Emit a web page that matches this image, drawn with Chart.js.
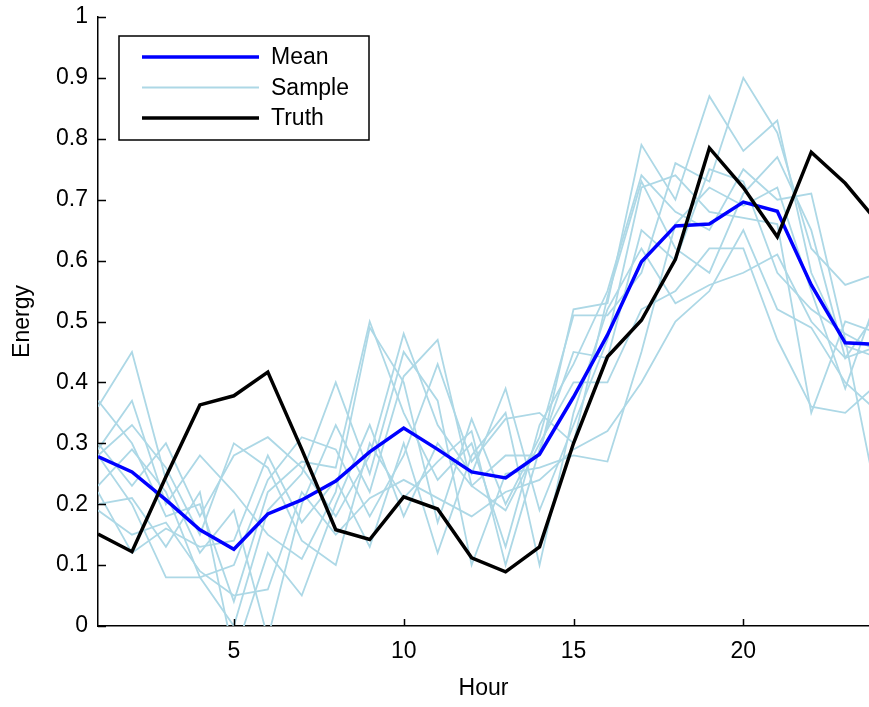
<!DOCTYPE html>
<html>
<head>
<meta charset="utf-8">
<script src="https://cdn.jsdelivr.net/npm/chart.js@4"></script>
<style>
  html, body { margin: 0; padding: 0; background: #fff; overflow: hidden; }
</style>
</head>
<body>
<canvas id="energyChart" width="869" height="707"></canvas>
<script>
// hours on the x axis
const hours = [1, 2, 3, 4, 5, 6, 7, 8, 9, 10, 11, 12, 13, 14, 15, 16, 17, 18, 19, 20, 21, 22, 23, 24];

const meanEnergy = [0.278, 0.253, 0.207, 0.158, 0.126, 0.184, 0.207, 0.238, 0.286, 0.325, 0.290, 0.253,
                    0.243, 0.282, 0.376, 0.478, 0.598, 0.657, 0.660, 0.696, 0.681, 0.560, 0.465, 0.462];
const truthEnergy = [0.151, 0.122, 0.245, 0.363, 0.378, 0.417, 0.290, 0.158, 0.142, 0.212, 0.192, 0.112,
                     0.089, 0.130, 0.300, 0.442, 0.502, 0.602, 0.785, 0.720, 0.639, 0.778, 0.727, 0.660];

const sampleA = [0.37, 0.30, 0.18, 0.20, 0.04, 0.22, 0.27, 0.26, 0.50, 0.35, 0.24, 0.30, 0.13, 0.33, 0.43, 0.55, 0.74, 0.68, 0.65, 0.75, 0.70, 0.71, 0.47, 0.19];
const sampleB = [0.36, 0.45, 0.24, 0.12, 0.19, -0.02, 0.20, 0.33, 0.22, 0.41, 0.47, 0.23, 0.28, 0.28, 0.52, 0.53, 0.79, 0.70, 0.87, 0.78, 0.83, 0.58, 0.46, 0.44];
const sampleC = [0.30, 0.23, 0.30, 0.18, 0.28, 0.31, 0.26, 0.18, 0.28, 0.48, 0.33, 0.25, 0.39, 0.19, 0.33, 0.47, 0.72, 0.74, 0.68, 0.67, 0.66, 0.35, 0.50, 0.48];
const sampleD = [0.29, 0.37, 0.20, 0.28, 0.22, 0.15, 0.11, 0.22, 0.49, 0.40, 0.17, 0.34, 0.20, 0.31, 0.51, 0.51, 0.58, 0.76, 0.73, 0.90, 0.81, 0.62, 0.56, 0.58];
const sampleE = [0.28, 0.20, 0.08, 0.08, 0.10, 0.24, 0.31, 0.29, 0.18, 0.28, 0.43, 0.27, 0.34, 0.35, 0.30, 0.54, 0.73, 0.62, 0.58, 0.71, 0.77, 0.65, 0.44, 0.52];
const sampleF = [0.28, 0.33, 0.26, 0.15, 0.30, 0.26, 0.14, 0.10, 0.30, 0.21, 0.27, 0.32, 0.10, 0.29, 0.45, 0.44, 0.65, 0.60, 0.75, 0.73, 0.58, 0.52, 0.48, 0.45];
const sampleG = [0.23, 0.29, 0.22, 0.08, 0.00, 0.19, 0.25, 0.40, 0.25, 0.45, 0.37, 0.10, 0.25, 0.26, 0.28, 0.27, 0.45, 0.66, 0.72, 0.69, 0.72, 0.55, 0.39, 0.55];
const sampleH = [0.22, 0.12, 0.16, 0.13, 0.14, 0.28, 0.17, 0.24, 0.13, 0.30, 0.12, 0.28, 0.35, 0.10, 0.35, 0.52, 0.62, 0.53, 0.56, 0.58, 0.61, 0.50, 0.44, 0.46];
const sampleI = [0.20, 0.21, 0.13, 0.22, -0.05, 0.12, 0.05, 0.20, 0.33, 0.18, 0.30, 0.23, 0.19, 0.30, 0.40, 0.40, 0.52, 0.55, 0.62, 0.62, 0.47, 0.36, 0.35, 0.40];
const sampleJ = [0.19, 0.15, 0.17, 0.09, 0.05, 0.06, 0.22, 0.15, 0.21, 0.24, 0.21, 0.18, 0.22, 0.24, 0.29, 0.32, 0.40, 0.50, 0.55, 0.65, 0.52, 0.49, 0.40, 0.35];
const samples = [sampleA, sampleB, sampleC, sampleD, sampleE, sampleF, sampleG, sampleH, sampleI, sampleJ];

const xTickValues = [5, 10, 15, 20];
const yTickValues = [0, 0.1, 0.2, 0.3, 0.4, 0.5, 0.6, 0.7, 0.8, 0.9, 1];
const legendNames = ['Mean', 'Sample', 'Truth'];

const FONT = 'Liberation Sans, Arial, Helvetica, sans-serif';
const MEAN_COLOR = '#0000ff';
const SAMPLE_COLOR = '#add8e6';
const TRUTH_COLOR = '#000000';

// MATLAB style: ticks point into the axes
const inwardTicks = {
    id: 'inwardTicks',
    afterDraw(chart) {
        const ctx = chart.ctx;
        const area = chart.chartArea;
        const xs = chart.scales.x, ys = chart.scales.y;
        ctx.save();
        ctx.strokeStyle = '#000';
        ctx.lineWidth = 1.5;
        ctx.beginPath();
        yTickValues.forEach(v => {
            const py = Math.round(ys.getPixelForValue(v)) + 0.5;
            ctx.moveTo(area.left, py);
            ctx.lineTo(area.left + 8, py);
        });
        xTickValues.forEach(v => {
            const px = Math.round(xs.getPixelForValue(v)) + 0.5;
            ctx.moveTo(px, area.bottom);
            ctx.lineTo(px, area.bottom - 7);
        });
        ctx.stroke();
        ctx.restore();
    }
};

// legend box in the upper left corner of the axes
const boxLegend = {
    id: 'boxLegend',
    afterDraw(chart) {
        const ctx = chart.ctx;
        const styles = [
            { color: MEAN_COLOR, width: 3.5 },
            { color: SAMPLE_COLOR, width: 1.8 },
            { color: TRUTH_COLOR, width: 3.5 }
        ];
        ctx.save();
        ctx.fillStyle = '#fff';
        ctx.fillRect(119, 36, 250, 104);
        ctx.strokeStyle = '#000';
        ctx.lineWidth = 1.5;
        ctx.strokeRect(119, 36, 250, 104);
        ctx.font = '23px ' + FONT;
        ctx.textBaseline = 'middle';
        ctx.fillStyle = '#000';
        legendNames.forEach((name, i) => {
            const y = 57 + i * 30.5;
            ctx.strokeStyle = styles[i].color;
            ctx.lineWidth = styles[i].width;
            ctx.beginPath();
            ctx.moveTo(142, y);
            ctx.lineTo(259, y);
            ctx.stroke();
            ctx.fillText(name, 271, y + 1);
        });
        ctx.restore();
    }
};

const datasets = [
    { label: 'Truth', data: truthEnergy, borderColor: TRUTH_COLOR, borderWidth: 3.5, order: 0 },
    { label: 'Mean', data: meanEnergy, borderColor: MEAN_COLOR, borderWidth: 3.5, order: 1 }
];
samples.forEach((s, i) => {
    datasets.push({ label: 'Sample', data: s, borderColor: SAMPLE_COLOR, borderWidth: 1.8, order: 2 + i });
});
datasets.forEach(d => {
    d.pointRadius = 0;
    d.tension = 0;
    d.fill = false;
    d.borderJoinStyle = 'miter';
});

new Chart(document.getElementById('energyChart'), {
    type: 'line',
    data: { labels: hours, datasets: datasets },
    options: {
        responsive: false,
        animation: false,
        events: [],
        layout: { padding: { top: 17, right: 0, left: 0, bottom: 0 } },
        plugins: { legend: { display: false }, tooltip: { enabled: false } },
        scales: {
            x: {
                type: 'linear',
                min: 1,
                max: 23.7,
                afterBuildTicks: scale => { scale.ticks = xTickValues.map(v => ({ value: v })); },
                afterFit: scale => { scale.height = 81; scale.paddingLeft = 0; scale.paddingRight = 0; },
                grid: { display: false, drawTicks: false },
                border: { display: true, color: '#000', width: 1.5 },
                ticks: { color: '#000', padding: 12, maxRotation: 0, font: { family: FONT, size: 23 } },
                title: { display: true, text: 'Hour', color: '#000', padding: { top: 0, bottom: 5 }, font: { family: FONT, size: 23 } }
            },
            y: {
                min: 0,
                max: 1,
                afterBuildTicks: scale => { scale.ticks = yTickValues.map(v => ({ value: v })); },
                afterFit: scale => { scale.width = 98; scale.paddingTop = 0; scale.paddingBottom = 0; },
                grid: { display: false, drawTicks: false },
                border: { display: true, color: '#000', width: 1.5 },
                ticks: { color: '#000', padding: 10, font: { family: FONT, size: 23 }, callback: v => String(+v.toFixed(1)) },
                title: { display: true, text: 'Energy', color: '#000', padding: { top: 9, bottom: 0 }, font: { family: FONT, size: 23 } }
            }
        }
    },
    plugins: [inwardTicks, boxLegend]
});
</script>
</body>
</html>
